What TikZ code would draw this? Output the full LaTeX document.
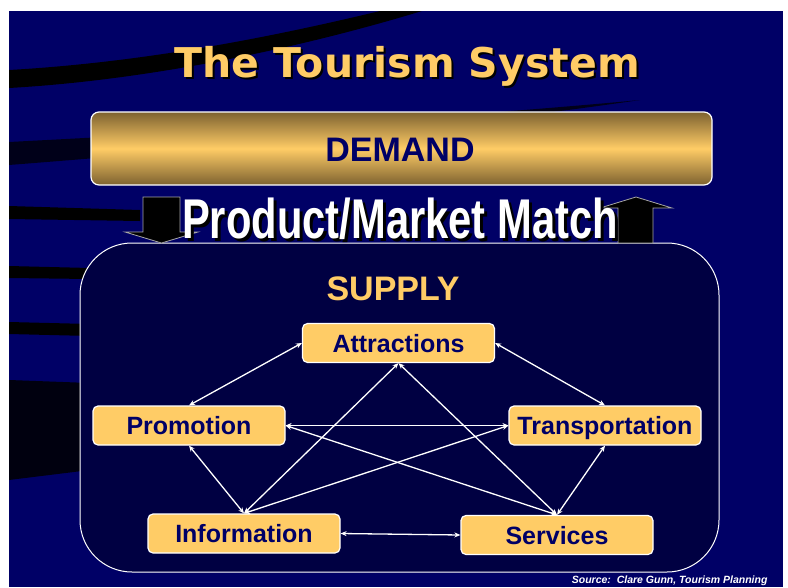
\documentclass[tikz,border=0pt]{standalone}
\usepackage{fontspec}
\setmainfont{Liberation Sans}
\newfontfamily\titlefont{DejaVu Sans}
\usetikzlibrary{arrows.meta}

\definecolor{slidenavy}{RGB}{0,0,102}
\definecolor{supplynavy}{RGB}{0,0,66}
\definecolor{gold}{RGB}{255,204,102}
\definecolor{darkgold}{RGB}{125,98,48}
\definecolor{textnavy}{RGB}{0,0,102}

\begin{document}
\begin{tikzpicture}[x=1pt,y=-1pt,
  part/.style={draw=white,line width=1.2pt,fill=gold,rounded corners=5pt,
    minimum width=192pt,minimum height=39pt,inner sep=0pt,text=textnavy,
    text height=18pt,text depth=0pt,
    font=\bfseries\fontsize{25}{30}\selectfont},
  link/.style={white,line width=1.3pt,
    {Stealth[length=6pt,width=5pt]}-{Stealth[length=6pt,width=5pt]}},
  blockarrow/.style={fill=black,draw=gray!70,line width=0.8pt}]
  \useasboundingbox (0,0) rectangle (788,587);
  \fill[white] (0,0) rectangle (788,587);

  % slide background and dark swooshes
  \fill[slidenavy] (9,11) rectangle (783,587);
  \fill[black] (9,70) .. controls (150,62) and (280,35) .. (380,11) -- (422,11)
     .. controls (300,48) and (150,80) .. (9,88) -- cycle;
  \fill[black,opacity=0.75] (9,142) .. controls (200,132) and (450,118) .. (640,100)
     .. controls (450,128) and (200,150) .. (9,165) -- cycle;
  \fill[black] (9,206) -- (140,210) -- (140,221) -- (9,219) -- cycle;
  \fill[black] (9,266) -- (90,268) -- (90,279) -- (9,278) -- cycle;
  \fill[black] (9,322) -- (90,324) -- (90,336) -- (9,334) -- cycle;
  \fill[black,opacity=0.85] (9,380) -- (90,383) -- (90,470) -- (9,480) -- cycle;

  % title
  \node[text=black,font=\titlefont\bfseries\fontsize{41}{48}\selectfont,anchor=base]
    at (409,79) {The Tourism System};
  \node[text=gold,font=\titlefont\bfseries\fontsize{41}{48}\selectfont,anchor=base]
    at (407,77) {The Tourism System};

  % demand bar
  \node[draw=white,line width=1.2pt,rounded corners=8pt,top color=darkgold,
    bottom color=darkgold,middle color=gold,minimum width=621pt,minimum height=73pt]
    (demand) at (401.5,148.5) {};
  \node[text=textnavy,font=\bfseries\fontsize{34}{40}\selectfont] at (400,150) {DEMAND};

  % supply frame
  \node[draw=white,line width=1pt,fill=supplynavy,rounded corners=52pt,
    minimum width=639pt,minimum height=329pt] (supply) at (399.5,407.5) {};
  \node[text=gold,font=\bfseries\fontsize{34}{40}\selectfont] at (393,289) {SUPPLY};

  % match arrows
  \draw[blockarrow] (143,197) -- (180,197) -- (180,232) -- (198,232) -- (161.5,243)
     -- (125,232) -- (143,232) -- cycle;
  \draw[blockarrow] (618,243) -- (653,243) -- (653,208) -- (672,208) -- (636,197)
     -- (600,208) -- (618,208) -- cycle;
  \node[text=black,font=\bfseries\fontsize{56}{60}\selectfont,anchor=base]
    at (403,241) {\scalebox{0.745}[1]{Product/Market Match}};
  \node[text=white,font=\bfseries\fontsize{56}{60}\selectfont,anchor=base]
    at (400,238) {\scalebox{0.745}[1]{Product/Market Match}};

  % parts of supply
  \node[part] (attr)  at (398.5,343) {Attractions};
  \node[part] (promo) at (189,425.5) {Promotion};
  \node[part] (trans) at (605,425.5) {Transportation};
  \node[part] (info)  at (244,533.5) {Information};
  \node[part] (serv)  at (557,535) {Services};

  \draw[link] (attr.west) -- (promo.north);
  \draw[link] (attr.east) -- (trans.north);
  \draw[link] (attr.south) -- (info.north);
  \draw[link] (attr.south) -- (serv.north);
  \draw[link] (promo.east) -- (trans.west);
  \draw[link] (promo.east) -- (serv.north);
  \draw[link] (trans.west) -- (info.north);
  \draw[link] (promo.south) -- (info.north);
  \draw[link] (trans.south) -- (serv.north);
  \draw[link] (info.east) -- (serv.west);

  \node[text=white,font=\bfseries\itshape\fontsize{10.5}{12}\selectfont,anchor=base east]
    at (771,583) {Source:\ \ Clare Gunn, Tourism Planning};
\end{tikzpicture}
\end{document}
